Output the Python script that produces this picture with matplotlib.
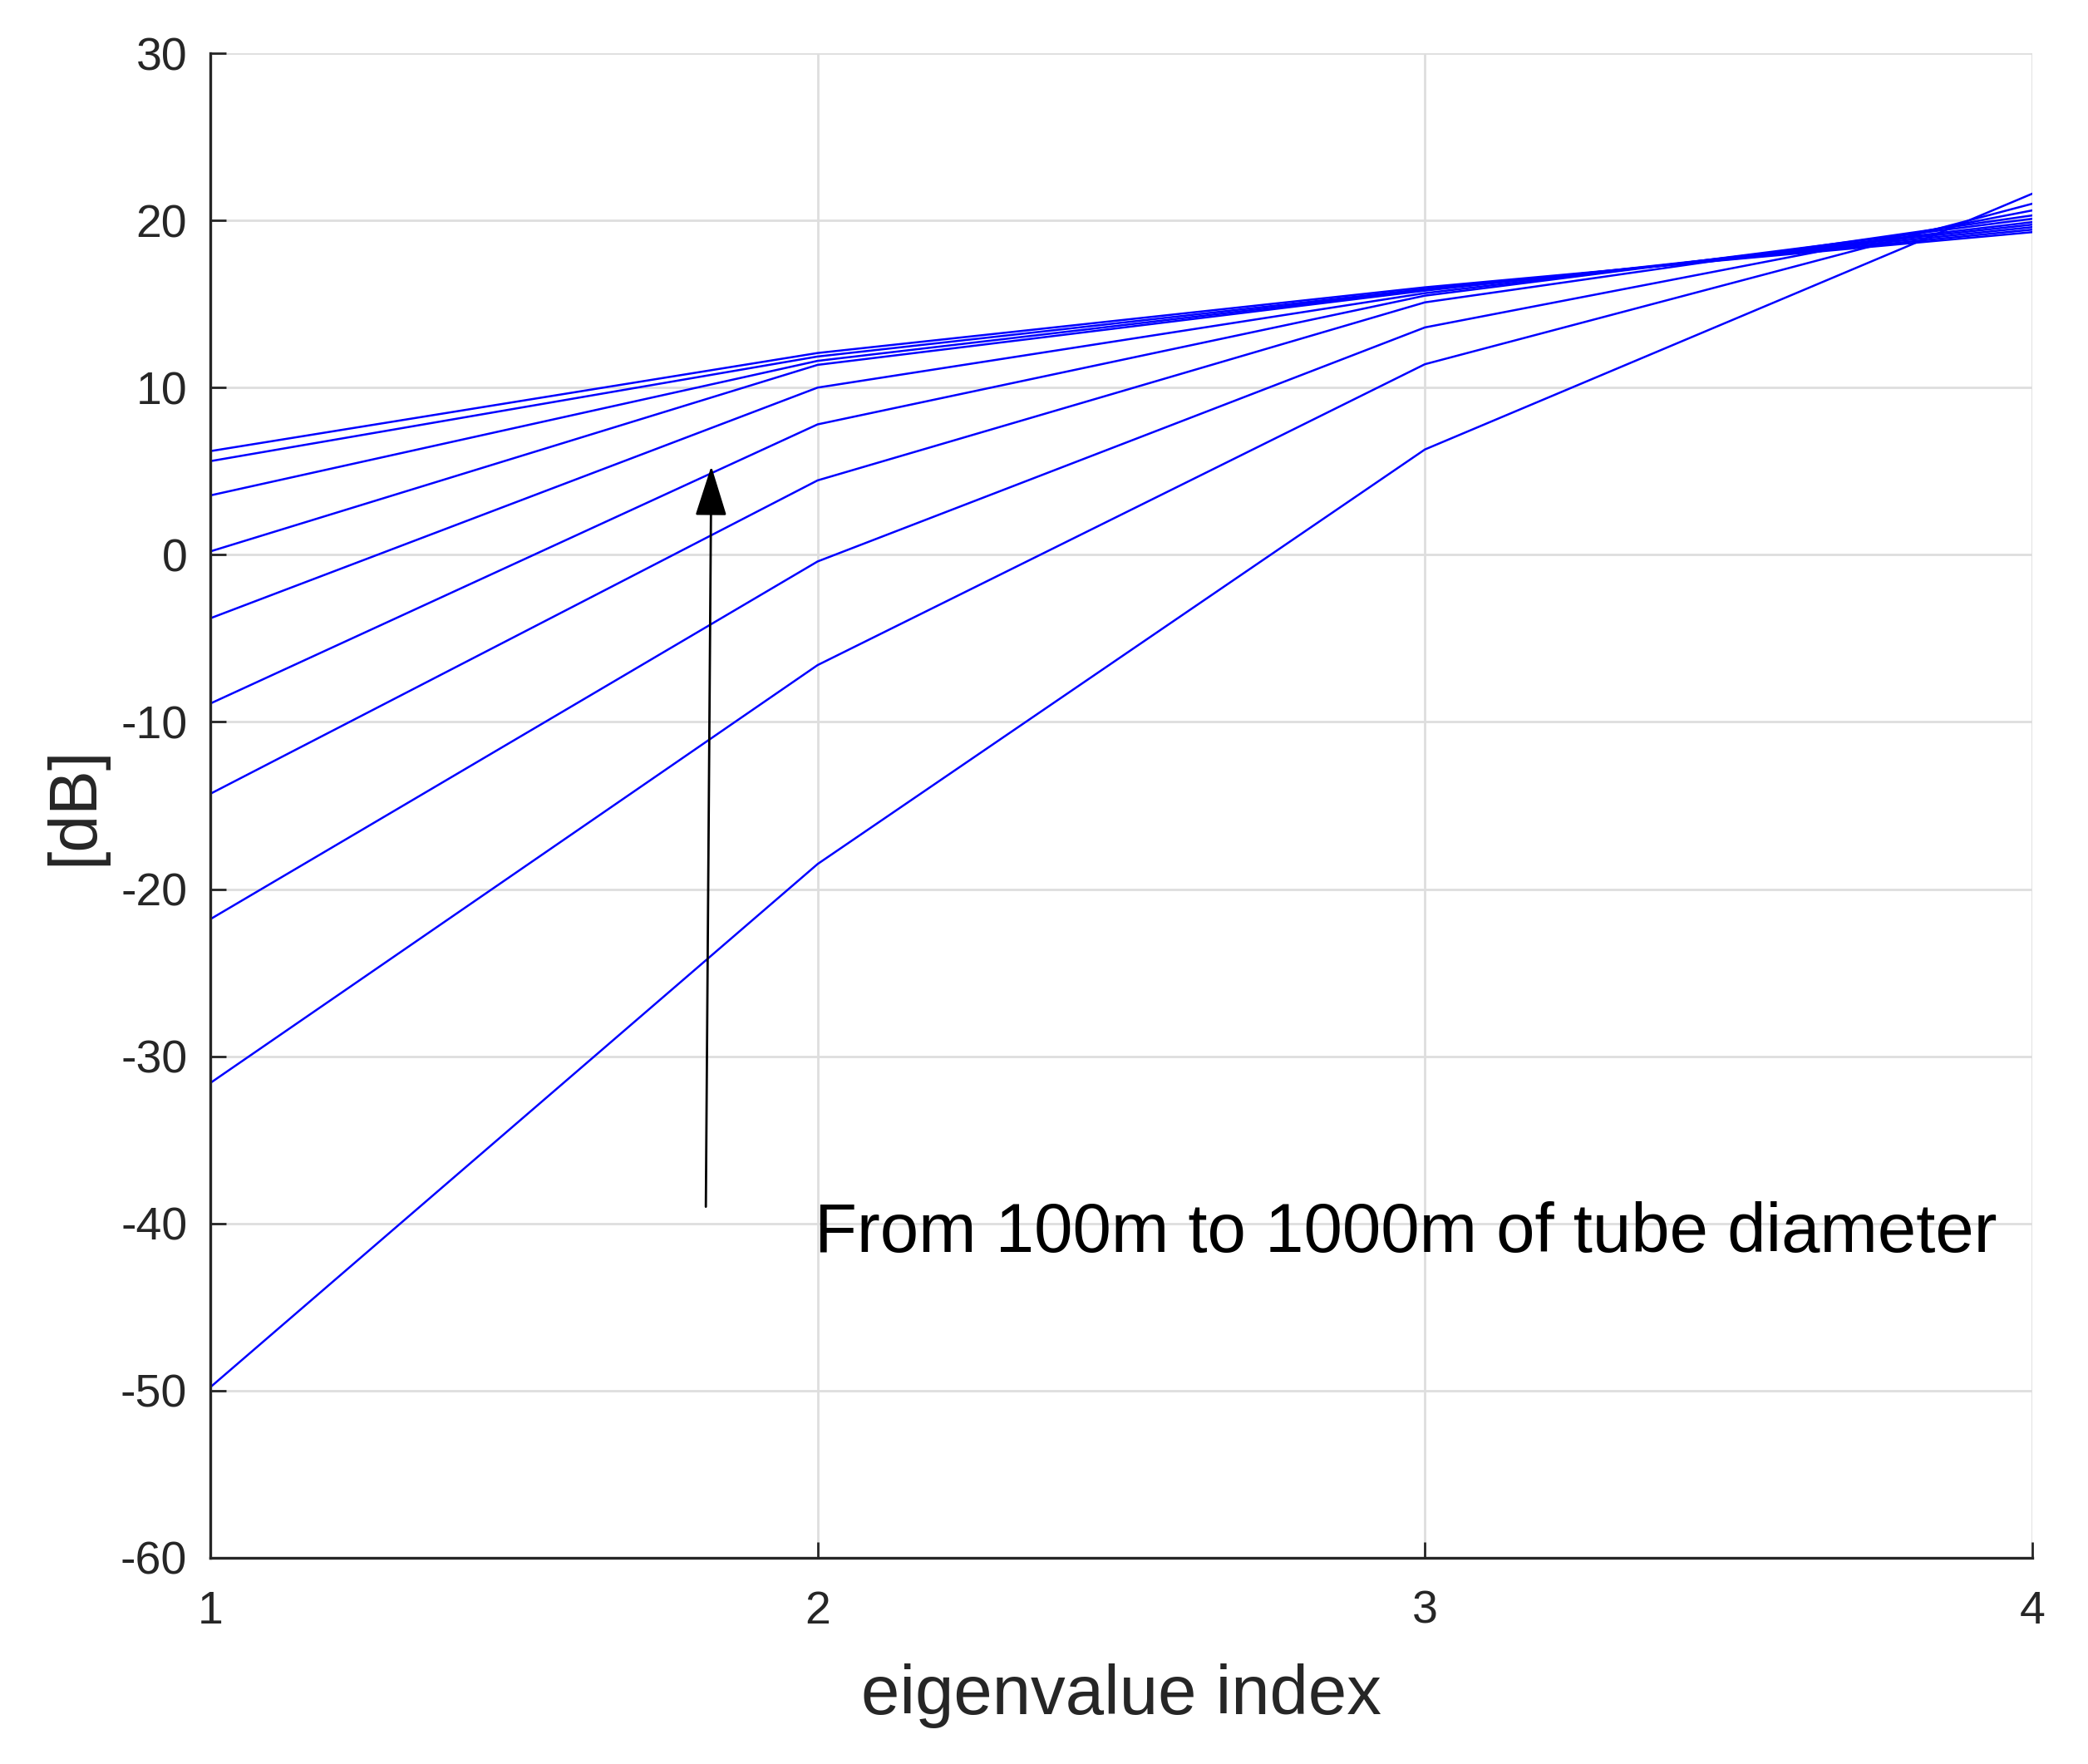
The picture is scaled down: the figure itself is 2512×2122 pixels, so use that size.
import matplotlib
matplotlib.use("Agg")
import matplotlib.pyplot as plt
import numpy as np

plt.rcParams['font.family'] = ['Liberation Sans', 'DejaVu Sans']
plt.rcParams['axes.unicode_minus'] = False

eig_index = [1, 2, 3, 4]
# one curve per tube diameter (100 m ... 1000 m), values in dB
curves = [
    [-49.8, -18.5, 6.3, 21.6],
    [-31.6, -6.6, 11.4, 21.0],
    [-21.8, -0.4, 13.6, 20.6],
    [-14.3, 4.45, 15.1, 20.3],
    [-8.9, 7.8, 15.5, 20.1],
    [-3.8, 10.0, 15.65, 19.9],
    [0.2, 11.36, 15.8, 19.75],
    [3.55, 11.6, 15.85, 19.6],
    [5.6, 11.86, 15.9, 19.45],
    [6.2, 12.07, 16.0, 19.3],
]
y_ticks = [-60, -50, -40, -30, -20, -10, 0, 10, 20, 30]
x_ticks = [1, 2, 3, 4]
annotation_text = "From 100m to 1000m of tube diameter"

fig = plt.figure(figsize=(12.56, 10.61), dpi=200)
ax = fig.add_axes([0.1007, 0.1169, 0.8726, 0.8529])

for c in curves:
    ax.plot(eig_index, c, color='#0000ff', lw=0.9, solid_joinstyle='miter')

ax.set_xlim(1, 4)
ax.set_ylim(-60, 30)
ax.set_xticks(x_ticks)
ax.set_yticks(y_ticks)
ax.grid(True, color='#dedede', lw=1.0)
ax.set_axisbelow(True)

for s in ['top', 'right']:
    ax.spines[s].set_visible(False)
for s in ['left', 'bottom']:
    ax.spines[s].set_color('#262626')
    ax.spines[s].set_linewidth(1.2)

ax.tick_params(axis='both', direction='in', length=7, width=1.0, color='#262626',
               labelsize=20, labelcolor='#262626')
ax.tick_params(axis='y', pad=10)
ax.tick_params(axis='x', pad=14)

ax.set_xlabel('eigenvalue index', fontsize=30, color='#262626', labelpad=13)
ax.set_ylabel('[dB]', fontsize=29, color='#262626', labelpad=6)

ax.annotate('', xy=(1.825, 5.3), xytext=(1.816, -39),
            arrowprops=dict(arrowstyle='-|>,head_length=1.9,head_width=0.6',
                            color='black', lw=1.0, shrinkA=0, shrinkB=0))
ax.text(1.995, -40.6, annotation_text, fontsize=30, color='black',
        ha='left', va='center')

fig.savefig('out.png', dpi=200)
